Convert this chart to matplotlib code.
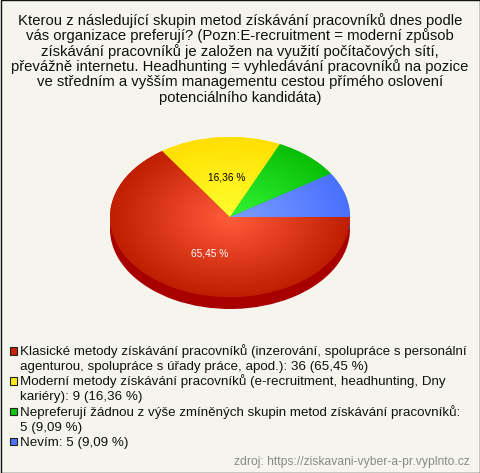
import matplotlib
matplotlib.use("Agg")
import numpy as np
import matplotlib.pyplot as plt
from matplotlib.colors import to_rgb

W, H = 480, 473
plt.rcParams['font.family'] = ['Liberation Sans', 'DejaVu Sans']

title_lines = [
    "Kterou z následující skupin metod získávání pracovníků dnes podle",
    "vás organizace preferují? (Pozn:E-recruitment = moderní způsob",
    "získávání pracovníků je založen na využití počítačových sítí,",
    "převážně internetu. Headhunting = vyhledávání pracovníků na pozice",
    "ve středním a vyšším managementu cestou přímého oslovení",
    "potenciálního kandidáta)",
]
values = [36, 9, 5, 5]
pct_labels = ["65,45 %", "16,36 %", "9,09 %", "9,09 %"]
legend_lines = [
    ["Klasické metody získávání pracovníků (inzerování, spolupráce s personální",
     "agenturou, spolupráce s úřady práce, apod.): 36 (65,45 %)"],
    ["Moderní metody získávání pracovníků (e-recruitment, headhunting, Dny",
     "kariéry): 9 (16,36 %)"],
    ["Nepreferují žádnou z výše zmíněných skupin metod získávání pracovníků:",
     "5 (9,09 %)"],
    ["Nevím: 5 (9,09 %)"],
]
source = "zdroj: https://ziskavani-vyber-a-pr.vyplnto.cz"
centre_colors = ["#ff5c3c", "#ffff30", "#34f534", "#7c9eff"]
edge_colors = ["#bf1e00", "#ffdf00", "#08bf08", "#4a70ff"]
side_colors = ["#a80000", "#b09a00", "#008000", "#2a48b0"]
swatch_colors = ["#c8200a", "#ffe81a", "#12c812", "#4f74f5"]
BG = "#f5f5ee"

fig = plt.figure(figsize=(W / 100, H / 100), dpi=100, facecolor=BG)
page = fig.add_axes([0, 0, 1, 1])
page.set_xlim(0, W)
page.set_ylim(H, 0)
page.axis("off")
page.add_patch(plt.Rectangle((0.5, 0.5), W - 1, H - 1, fc=BG, ec="#111111", lw=1))

cx, cy, rx, ry, depth = 230, 217, 120, 80, 12


def pie_axes(dy):
    a = fig.add_axes([(cx - rx) / W, 1 - (cy + dy + ry) / H, 2 * rx / W, 2 * ry / H])
    a.patch.set_alpha(0)
    return a


side = pie_axes(depth)
side.pie(values, colors=side_colors, startangle=0, counterclock=False, radius=1)
side.set_aspect("auto")
side.set_xlim(-1, 1)
side.set_ylim(-1, 1)

# Joins the side ellipse to the top face along the left and right edges.
page.fill_between([cx - rx, cx + rx], cy, cy + depth, color=side_colors[0], lw=0, zorder=0)

top = pie_axes(0)
wedges, _ = top.pie(values, colors=edge_colors, startangle=0, counterclock=False, radius=1)
top.set_aspect("auto")
grid = np.linspace(-1, 1, 500)
xx, yy = np.meshgrid(grid, grid)
rr = np.clip(np.hypot(xx, yy), 0, 1)[..., None]
for w, c0, c1 in zip(wedges, centre_colors, edge_colors):
    img = np.array(to_rgb(c0)) * (1 - rr) + np.array(to_rgb(c1)) * rr
    im = top.imshow(img, extent=(-1, 1, -1, 1), origin="lower", aspect="auto",
                    interpolation="bilinear", zorder=2)
    im.set_clip_path(w)
top.set_xlim(-1, 1)
top.set_ylim(-1, 1)

fig.text(210 / W, 1 - 256 / H, pct_labels[0], color="white", fontsize=7.3,
         ha="center", va="baseline", zorder=10)
fig.text(227 / W, 1 - 180 / H, pct_labels[1], color="black", fontsize=7.3,
         ha="center", va="baseline", zorder=10)

for i, line in enumerate(title_lines):
    page.text(240, 25 + i * 15.3, line, fontsize=10.7, color="#111111", ha="center", va="baseline")

y = 355.0
for group, col in zip(legend_lines, swatch_colors):
    page.add_patch(plt.Rectangle((10, y - 8), 7, 7.5, fc=col, ec="#222222", lw=0.8))
    for line in group:
        page.text(20, y, line, fontsize=9.6, color="#111111", ha="left", va="baseline")
        y += 15.0
    y += 0.3

page.text(470, 465, source, fontsize=8.7, color="#8a8a8a", ha="right", va="baseline")

fig.savefig("out.png", dpi=100, facecolor=BG)
